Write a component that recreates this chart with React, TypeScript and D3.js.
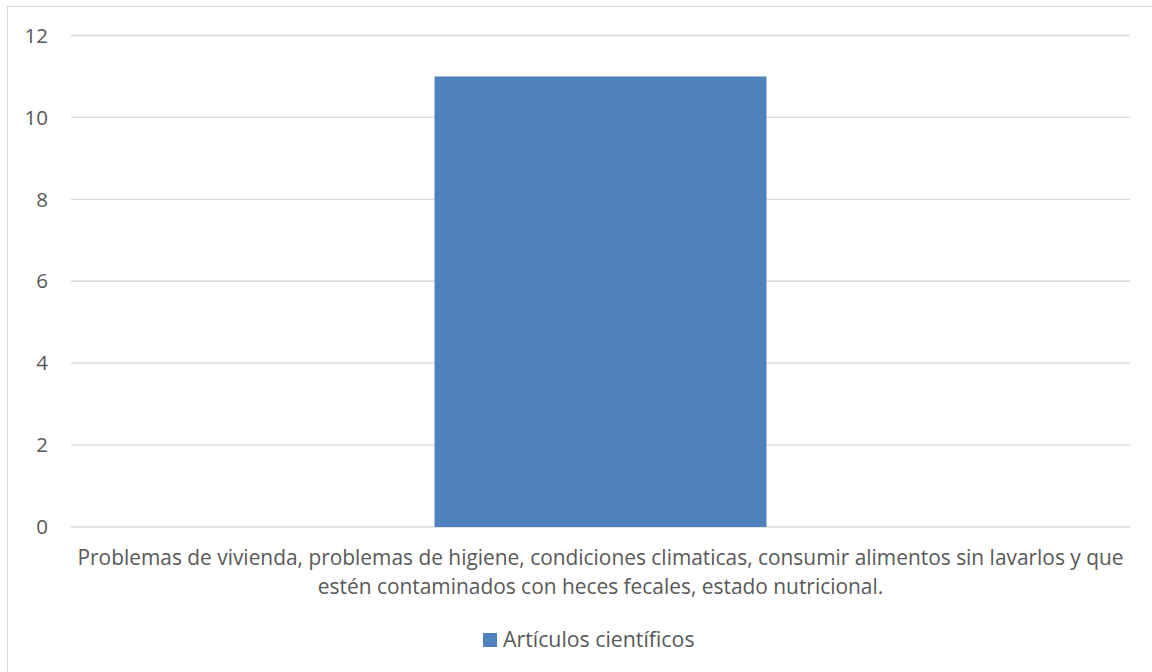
import React from "react";
import * as d3 from "d3";

const categories = [
  "Problemas de vivienda, problemas de higiene, condiciones climaticas, consumir alimentos sin lavarlos y que estén contaminados con heces fecales, estado nutricional.",
];
const categoryLines = [
  [
    "Problemas de vivienda, problemas de higiene, condiciones climaticas, consumir alimentos sin lavarlos y que",
    "estén contaminados con heces fecales, estado nutricional.",
  ],
];
const seriesName = "Artículos científicos";
const values = [11];
const yTicks = [0, 2, 4, 6, 8, 10, 12];

export default function App() {
  const W = 1152;
  const H = 672;
  const left = 71;
  const right = 1130;
  const top = 35.5;
  const bottom = 527;
  const x = d3
    .scaleBand<string>()
    .domain(categories)
    .range([left, right])
    .paddingInner(0)
    .paddingOuter(1.095);
  const y = d3.scaleLinear().domain([0, 12]).range([bottom, top]);
  const font = "'Open Sans', sans-serif";
  const color = "#595959";
  const fs = 20.5;
  return (
    <svg
      width={W}
      height={H}
      style={{ position: "absolute", left: 0, top: 0, background: "#fff" }}
    >
      <rect x={7.5} y={6.5} width={W} height={H} fill="#fff" stroke="#d9d9d9" strokeWidth={1} />
      {yTicks.map((t) => (
        <g key={t}>
          <line x1={left} x2={right} y1={y(t)} y2={y(t)} stroke="#d9d9d9" strokeWidth={1.3} />
          <text
            x={48}
            y={y(t)}
            dy="0.35em"
            textAnchor="end"
            fontFamily={font}
            fontSize={fs}
            fill={color}
          >
            {t}
          </text>
        </g>
      ))}
      {categories.map((c, i) => (
        <rect
          key={c}
          x={x(c)!}
          width={x.bandwidth()}
          y={y(values[i])}
          height={y(0) - y(values[i])}
          fill="#4f81bd"
        />
      ))}
      {categories.map((c, i) => (
        <text
          key={"l" + c}
          x={x(c)! + x.bandwidth() / 2}
          textAnchor="middle"
          fontFamily={font}
          fontSize={20.9}
          fill={color}
        >
          {categoryLines[i].map((ln, j) => (
            <tspan key={j} x={x(c)! + x.bandwidth() / 2} y={565 + j * 29}>
              {ln}
            </tspan>
          ))}
        </text>
      ))}
      <rect x={483} y={633} width={14} height={14} fill="#4f81bd" />
      <text x={503} y={647} fontFamily={font} fontSize={21.3} fill={color}>
        {seriesName}
      </text>
    </svg>
  );
}
